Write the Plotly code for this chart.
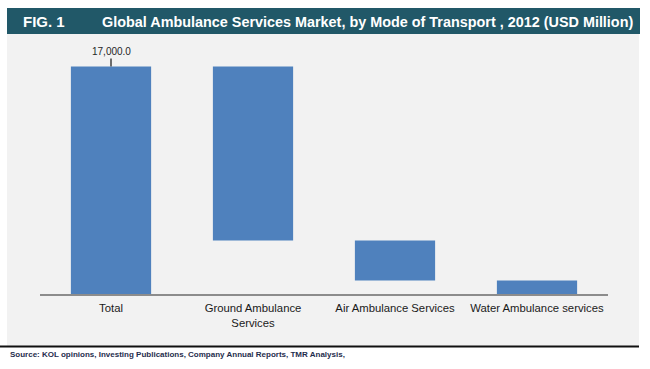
import plotly.graph_objects as go

categories = ["Total", "Ground Ambulance<br>Services", "Air Ambulance Services", "Water Ambulance services"]
measures = ["absolute", "relative", "relative", "relative"]
values = [17000, -13000, -3000, -1000]
total_label = "17,000.0"

BLUE = "#4f81bd"
TEAL = "#215868"

fig = go.Figure(go.Waterfall(
    x=categories,
    y=values,
    measure=measures,
    increasing=dict(marker=dict(color=BLUE)),
    decreasing=dict(marker=dict(color=BLUE)),
    totals=dict(marker=dict(color=BLUE)),
    connector=dict(visible=False),
    textposition="none",
    hoverinfo="x+y",
    width=0.565,
))

L, R = 40, 608
T, B = 53, 294
W, H = R - L, B - T

def px(x):
    return (x - L) / W

def py(y):
    return (B - y) / H

shapes = [
    dict(type="rect", xref="paper", yref="paper", x0=px(7), x1=px(639), y0=py(346), y1=py(34),
         fillcolor="#f2f2f2", line=dict(width=0), layer="below"),
    dict(type="rect", xref="paper", yref="paper", x0=px(7), x1=px(640), y0=py(34), y1=py(8),
         fillcolor=TEAL, line=dict(width=0), layer="below"),
    dict(type="line", xref="paper", yref="paper", x0=px(0), x1=px(639), y0=py(346.5), y1=py(346.5),
         line=dict(color="#111111", width=2)),
]

annotations = [
    dict(text="<b>FIG. 1</b>", xref="paper", yref="paper", x=px(21), y=py(21.5), xanchor="left",
         yanchor="middle", showarrow=False, font=dict(size=15, color="white", family="Liberation Sans, Arial")),
    dict(text="<b>Global Ambulance Services Market, by Mode of Transport , 2012 (USD Million)</b>",
         xref="paper", yref="paper", x=px(100), y=py(21.5), xanchor="left", yanchor="middle",
         showarrow=False, font=dict(size=14.4, color="white", family="Liberation Sans, Arial")),
    dict(text="<b>Source: KOL opinions, Investing Publications, Company Annual Reports, TMR Analysis,</b>",
         xref="paper", yref="paper", x=px(8), y=py(354), xanchor="left", yanchor="middle",
         showarrow=False, font=dict(size=8, color="#1f2d4d", family="Liberation Sans, Arial")),
    dict(text=total_label, x=categories[0], y=values[0], xref="x", yref="y",
         showarrow=True, arrowhead=0, arrowwidth=1.5, arrowcolor="#404040", ax=0, ay=-15,
         font=dict(size=10, color="#262626", family="Liberation Sans, Arial")),
]

fig.update_layout(
    width=650, height=369,
    margin=dict(l=L, r=650 - R, t=T, b=369 - B),
    paper_bgcolor="white",
    plot_bgcolor="rgba(0,0,0,0)",
    showlegend=False,
    shapes=shapes,
    annotations=annotations,
    font=dict(family="Liberation Sans, Arial", size=11.3, color="#1a1a1a"),
    xaxis=dict(showline=True, linecolor="#8c8c8c", linewidth=1.5, ticks="", showgrid=False,
               ticklabelstandoff=3, tickfont=dict(size=11.3, color="#1a1a1a")),
    yaxis=dict(range=[0, 18000], visible=False, showgrid=False, zeroline=False),
)

fig.write_html("out.html", config={"displayModeBar": False},
               post_script="document.body.style.margin='0';")
